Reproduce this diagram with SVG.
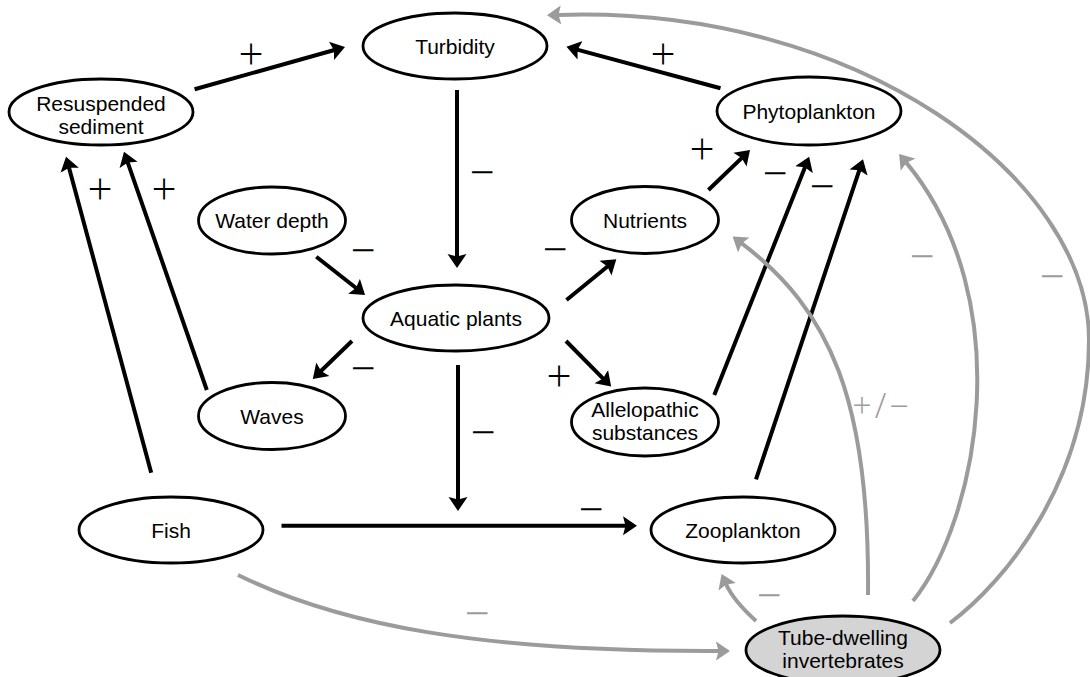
<svg xmlns="http://www.w3.org/2000/svg" width="1090" height="677" viewBox="0 0 1090 677">
<style>
.n ellipse{fill:#fff;stroke:#000;stroke-width:2.8}
.n text{font-family:"Liberation Sans",Arial,sans-serif;font-size:21px;text-anchor:middle;fill:#000}
#tube ellipse{fill:#d4d4d4}
.k{fill:none;stroke:#000;stroke-width:4}
.g{fill:none;stroke:#9b9b9b;stroke-width:4}
.s{font-family:"Open Sans","Liberation Sans",sans-serif;font-weight:300;font-size:44px;text-anchor:middle}
.sb{fill:#000}
.sg{fill:#9b9b9b}
</style>
<defs>
<marker id="ab" markerUnits="userSpaceOnUse" markerWidth="15" markerHeight="20" viewBox="0 0 15 20" refX="3" refY="10" orient="auto"><path d="M0,0.5 L14,10 L0,19.5 L2.5,10 Z" fill="#000"/></marker>
<marker id="ag" markerUnits="userSpaceOnUse" markerWidth="15" markerHeight="20" viewBox="0 0 15 20" refX="3" refY="10" orient="auto"><path d="M0,0.5 L14,10 L0,19.5 L2.5,10 Z" fill="#9b9b9b"/></marker>
</defs>
<rect width="1090" height="677" fill="#fff"/>
<g id="connectors">
<path class="k" marker-end="url(#ab)" d="M194.6,89.3 L334.4,50"/>
<path class="k" marker-end="url(#ab)" d="M457,90 L457,257"/>
<path class="k" marker-end="url(#ab)" d="M316.3,256.7 L356.4,288.2"/>
<path class="k" marker-end="url(#ab)" d="M720.5,88.3 L577.1,49.6"/>
<path class="k" marker-end="url(#ab)" d="M708.4,190 L742.1,157.6"/>
<path class="k" marker-end="url(#ab)" d="M714.3,395 L805.1,166.9"/>
<path class="k" marker-end="url(#ab)" d="M756,479.3 L859.5,169.7"/>
<path class="k" marker-end="url(#ab)" d="M566.5,300 L607.8,266.3"/>
<path class="k" marker-end="url(#ab)" d="M566,341 L603.4,378.8"/>
<path class="k" marker-end="url(#ab)" d="M352,341 L320.7,371.3"/>
<path class="k" marker-end="url(#ab)" d="M458,365 L458,500"/>
<path class="k" marker-end="url(#ab)" d="M281.5,525.7 L626,525.7"/>
<path class="k" marker-end="url(#ab)" d="M206.8,390 L127.6,162.1"/>
<path class="k" marker-end="url(#ab)" d="M151.2,472.7 L68.9,167.3"/>
<path class="g" marker-end="url(#ag)" d="M238,575 C340,625 480,652 719,651"/>
<path class="g" marker-end="url(#ag)" d="M756,621 Q733,600 726,584"/>
<path class="g" marker-end="url(#ag)" d="M868,595 C870,400 830,310 741.4,243.2"/>
<path class="g" marker-end="url(#ag)" d="M913,601 C978,520 1020,300 906.1,162.4"/>
<path class="g" marker-end="url(#ag)" d="M950,623 C1005,582 1089,480 1089,340 C1089,180 860,5 558,15"/>
</g>
<g id="labels">
<text class="s sb" x="251" y="70">+</text>
<text class="s sb" x="482" y="188">−</text>
<text class="s sb" x="363" y="266">−</text>
<text class="s sb" x="663" y="70">+</text>
<text class="s sb" x="702" y="165">+</text>
<text class="s sb" x="775" y="189">−</text>
<text class="s sb" x="822" y="202">−</text>
<text class="s sb" x="555" y="265">−</text>
<text class="s sb" x="559" y="392">+</text>
<text class="s sb" x="363" y="384">−</text>
<text class="s sb" x="483" y="448">−</text>
<text class="s sb" x="591" y="525">−</text>
<text class="s sb" x="164" y="205">+</text>
<text class="s sb" x="100" y="205">+</text>
<text class="s sg" x="477" y="629">−</text>
<text class="s sg" x="769" y="611">−</text>
<text class="s sg" x="882" y="418" style="font-size:34px;letter-spacing:3px">+/−</text>
<text class="s sg" x="922" y="272">−</text>
<text class="s sg" x="1052" y="292">−</text>
</g>
<g id="turbidity" class="n"><ellipse cx="455" cy="46" rx="92" ry="33"/><text x="455" y="53.5">Turbidity</text></g>
<g id="resuspended" class="n"><ellipse cx="101" cy="112" rx="92" ry="33"/><text x="101" y="110.5">Resuspended</text><text x="101" y="133.5">sediment</text></g>
<g id="waterdepth" class="n"><ellipse cx="272" cy="220.5" rx="73.5" ry="33.5"/><text x="272" y="228">Water depth</text></g>
<g id="plants" class="n"><ellipse cx="456" cy="318" rx="93" ry="33"/><text x="456" y="325.5">Aquatic plants</text></g>
<g id="waves" class="n"><ellipse cx="272" cy="416" rx="73.5" ry="33.5"/><text x="272" y="423.5">Waves</text></g>
<g id="fish" class="n"><ellipse cx="171" cy="530" rx="92" ry="33"/><text x="171" y="537.5">Fish</text></g>
<g id="phytoplankton" class="n"><ellipse cx="809" cy="111" rx="92" ry="34"/><text x="809" y="118.5">Phytoplankton</text></g>
<g id="nutrients" class="n"><ellipse cx="645" cy="220" rx="73.5" ry="33.5"/><text x="645" y="227.5">Nutrients</text></g>
<g id="allelopathic" class="n"><ellipse cx="645" cy="422" rx="73.5" ry="34"/><text x="645" y="417">Allelopathic</text><text x="645" y="440">substances</text></g>
<g id="zooplankton" class="n"><ellipse cx="743" cy="530" rx="92" ry="33"/><text x="743" y="537.5">Zooplankton</text></g>
<g id="tube" class="n"><ellipse cx="843" cy="650" rx="97" ry="34"/><text x="843" y="645">Tube-dwelling</text><text x="843" y="668">invertebrates</text></g>
</svg>
